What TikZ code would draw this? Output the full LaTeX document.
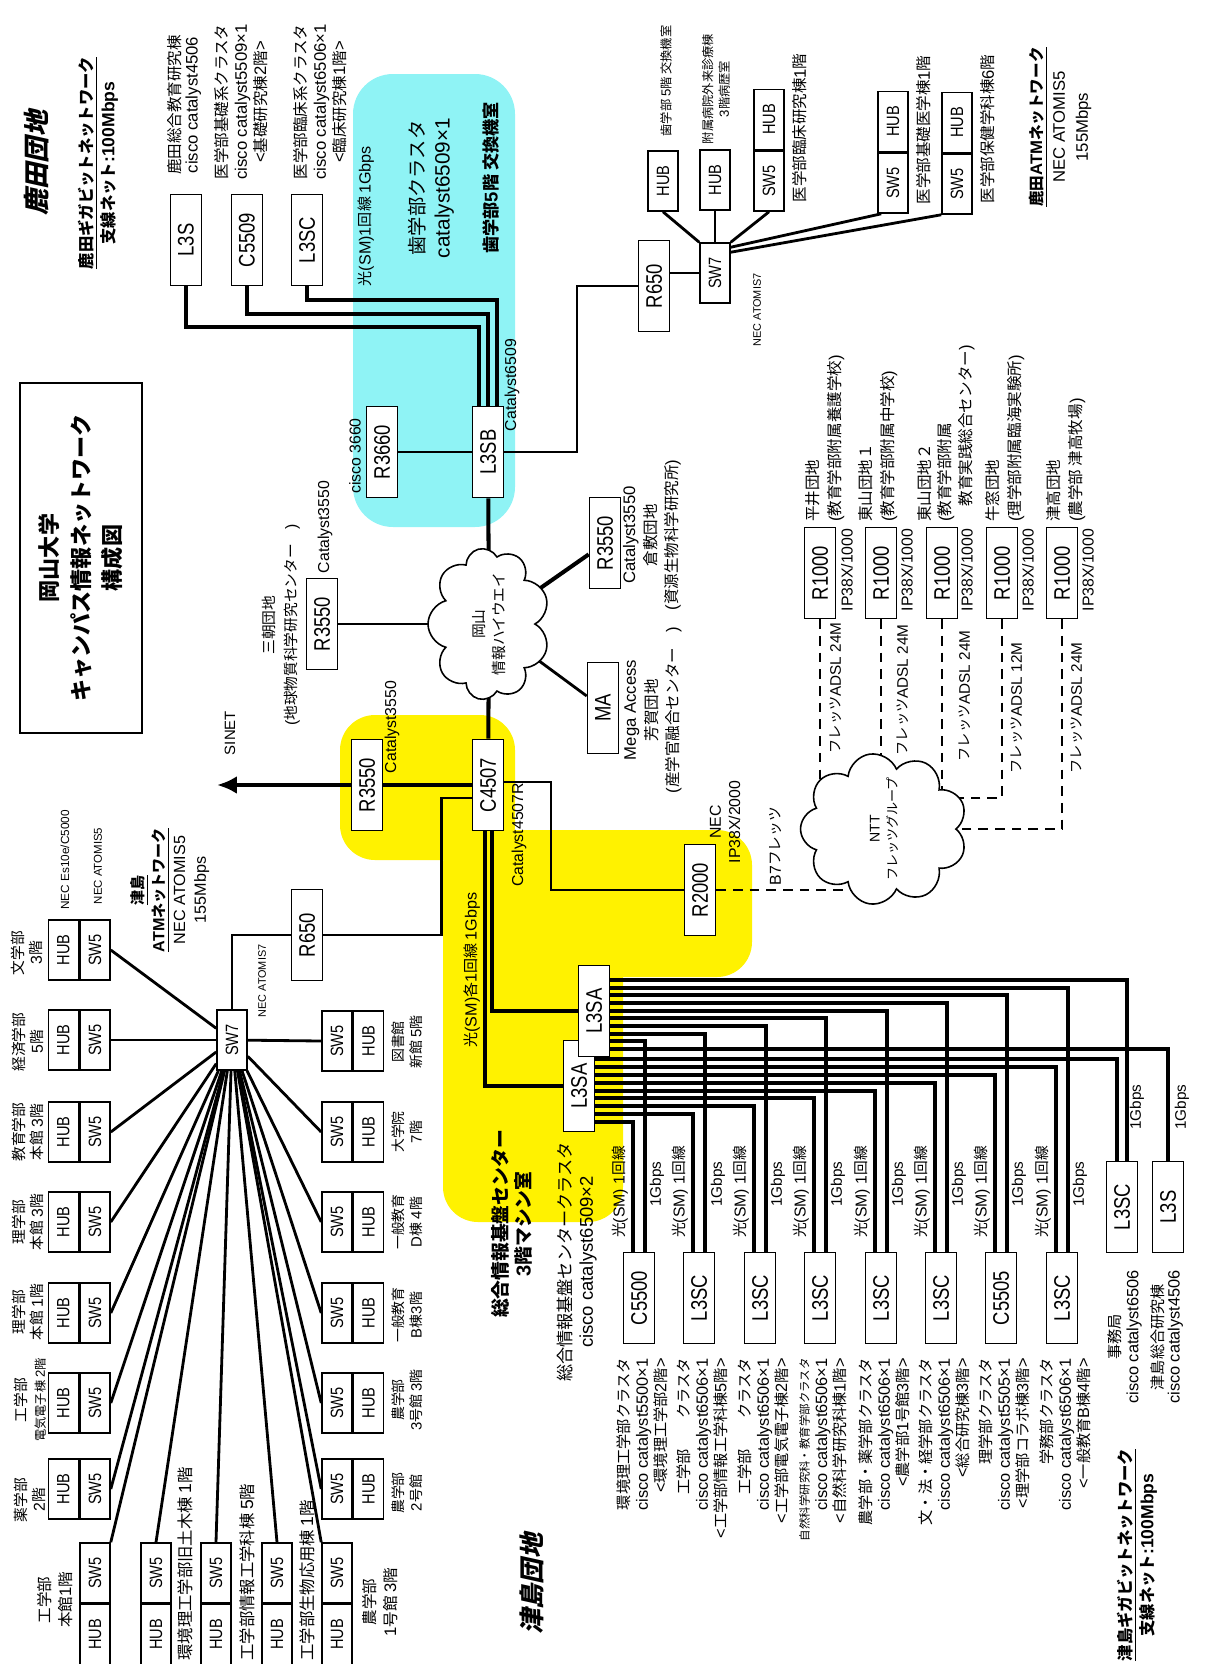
\documentclass[tikz,border=0pt]{standalone}
\usepackage{fontspec}
\setmainfont{Liberation Sans}
\newfontfamily\jpfont[Scale=0.93]{Noto Sans CJK JP}
\newfontfamily\jpslant[Scale=0.93,FakeSlant=0.22]{Noto Sans CJK JP}
\XeTeXinterchartokenstate=1
\newXeTeXintercharclass\jpchars
\count255="3000
\loop\XeTeXcharclass\count255=\jpchars\relax
\ifnum\count255<"9FFF \advance\count255 by 1 \repeat
\count255="FF00
\loop\XeTeXcharclass\count255=\jpchars\relax
\ifnum\count255<"FFEF \advance\count255 by 1 \repeat
\XeTeXinterchartoks 0 \jpchars={\jpfont}
\XeTeXinterchartoks 4095 \jpchars={\jpfont}
\XeTeXinterchartoks \jpchars 0={\rmfamily}
\XeTeXinterchartoks 4095 0={\rmfamily}
\usepackage{graphicx}
\usepackage{tikz}
\usetikzlibrary{arrows.meta,positioning,calc,shapes.symbols}
\definecolor{cyanbg}{RGB}{143,243,245}
\newcommand{\rot}[1]{\rotatebox{90}{\scalebox{1}[1.22]{#1}}}

\begin{document}
\begin{tikzpicture}[x=0.02cm,y=-0.02cm,>=Latex,every node/.style={font=\fontsize{9}{11}\selectfont}]
\tikzstyle{box}=[draw,fill=white,line width=0.9pt,minimum width=0.62cm,minimum height=1.82cm,inner sep=0pt,font=\fontsize{10.5}{12}\selectfont]
\tikzstyle{sbox}=[draw,fill=white,line width=0.9pt,minimum width=0.6cm,minimum height=1.2cm,inner sep=0pt,font=\fontsize{8.3}{10}\selectfont]
\tikzstyle{lbl}=[rotate=90,align=center,inner sep=0pt]
\tikzstyle{cable}=[line width=2.3pt]
\tikzstyle{link}=[line width=1.6pt]
\tikzstyle{wire}=[line width=1pt]
\tikzstyle{adsl}=[line width=0.9pt,dash pattern=on 5.5pt off 4pt]
\tikzstyle{puff}=[cloud,draw,fill=white,line width=0.9pt,cloud puffs=9,cloud ignores aspect,rotate=90,align=center,inner sep=0pt]
\tikzstyle{site}=[lbl,font={\XeTeXinterchartokenstate=0 \jpslant\bfseries\fontsize{16}{19}\selectfont}]
\useasboundingbox (0,0) rectangle (1223,1664);
\fill[cyanbg,rounded corners=0.8cm] (353,74) rectangle (515,527);
\fill[yellow,rounded corners=0.7cm] (340,715) rectangle (515,860);
\fill[yellow,rounded corners=0.7cm] (443,830) rectangle (752,977);
\fill[yellow,rounded corners=0.7cm] (443,830) rectangle (623,1222);

\node[lbl,draw,line width=1pt,minimum width=7cm,minimum height=2.44cm,font=\bfseries\fontsize{13.5}{18}\selectfont] (title) at (81,558) {岡山大学\\キャンパス情報ネットワーク\\構成図};
\node[site] (kashima) at (37,163) {鹿田団地};
\node[lbl,font=\bfseries\fontsize{10}{12.5}\selectfont] (kgiga) at (98,163) {\underline{鹿田ギガビットネットワーク}\\支線ネット:100Mbps};
\node[box] (ks1) at (186,240) {\rot{L3S}};
\node[box] (ks2) at (247,240) {\rot{C5509}};
\node[box] (ks3) at (307,240) {\rot{L3SC}};
\node[lbl,font=\fontsize{9.5}{10}\selectfont] (kl1) at (184,105) {鹿田総合教育研究棟\\cisco catalyst4506};
\node[lbl,font=\fontsize{9.5}{11}\selectfont] (kl2) at (241,102) {医学部基礎系クラスタ\\cisco catalyst5509×1\\<基礎研究棟2階>};
\node[lbl,font=\fontsize{9.5}{11}\selectfont] (kl3) at (320,102) {医学部臨床系クラスタ\\cisco catalyst6506×1\\<臨床研究棟1階>};
\node[lbl,font=\fontsize{9.2}{11}\selectfont] (ksm) at (366,216) {光(SM)1回線 1Gbps};
\node[lbl,font=\fontsize{11.8}{14.5}\selectfont] (dcl) at (431,188) {歯学部クラスタ\\catalyst6509×1};
\node[lbl,font=\bfseries\fontsize{10.5}{12}\selectfont] (droom) at (491,178) {歯学部5階 交換機室};
\node[box] (l3sb) at (488,452) {\rot{L3SB}};
\node[lbl] (l3sbt) at (512,385) {Catalyst6509};
\node[box] (r3660) at (382,452) {\rot{R3660}};
\node[lbl] (r3660t) at (355,456) {cisco 3660};

\node[box] (kr650) at (654,286) {\rot{R650}};
\node[sbox] (ksw7) at (715,273) {\rot{SW7}};
\node[sbox] (khub1) at (663,181) {\rot{HUB}};
\node[sbox] (khub2) at (715,180) {\rot{HUB}};
\node[sbox] (ksw5a) at (769,181) {\rot{SW5}};
\node[sbox,above=0pt of ksw5a] (khuba) {\rot{HUB}};
\node[sbox] (ksw5b) at (893,183) {\rot{SW5}};
\node[sbox,above=0pt of ksw5b] (khubb) {\rot{HUB}};
\node[sbox] (ksw5c) at (957,184) {\rot{SW5}};
\node[sbox,above=0pt of ksw5c] (khubc) {\rot{HUB}};
\node[lbl,font=\fontsize{7.5}{9}\selectfont] (kt1) at (666,81) {歯学部 5階 交換機室};
\node[lbl,font=\fontsize{7.5}{9.4}\selectfont] (kt2) at (716,89) {附属病院外来診療棟\\3階病歴室};
\node[lbl,font=\fontsize{9.5}{11}\selectfont] (kt3) at (800,128) {医学部臨床研究棟1階};
\node[lbl,font=\fontsize{9.5}{11}\selectfont] (kt4) at (924,130) {医学部基礎医学棟1階};
\node[lbl,font=\fontsize{9.5}{11}\selectfont] (kt5) at (988,129) {医学部保健学科棟6階};
\node[lbl,font=\fontsize{6.2}{7}\selectfont] (kt6) at (757,310) {NEC ATOMIS7};
\node[lbl,font=\fontsize{9.5}{13}\selectfont] (katm) at (1060,127) {\textbf{\underline{鹿田ATMネットワーク}}\\NEC ATOMIS5\\155Mbps};

\node[box] (mr3550) at (322,624) {\rot{R3550}};
\node[lbl] (mr3550t) at (325,527) {Catalyst3550};
\node[lbl,font=\fontsize{9}{12.5}\selectfont] (misasa) at (281,625) {三朝団地\\(地球物質科学研究センター　)};
\node[box] (sr3550) at (367,785) {\rot{R3550}};
\node[lbl] (sr3550t) at (392,727) {Catalyst3550};
\coordinate (sinet) at (217,785);
\node[lbl,font=\fontsize{8.5}{10}\selectfont] (sinett) at (230,733) {SINET};
\node[box] (c4507) at (488,785) {\rot{C4507}};
\node[lbl] (c4507t) at (519,835) {Catalyst4507R};
\node[box] (cr3550) at (605,543) {\rot{R3550}};
\node[lbl,font=\fontsize{9.5}{12}\selectfont] (kura) at (652,535) {Catalyst3550\\倉敷団地\\(資源生物科学研究所)};
\node[box] (ma) at (603,708) {\rot{MA}};
\node[lbl,font=\fontsize{9.5}{12}\selectfont] (haga) at (653,710) {Mega Access\\芳賀団地\\(産学官融合センター　)};
\coordinate (hwyc) at (489,624);
\node[box] (r2000) at (700,890) {\rot{R2000}};
\node[lbl,font=\fontsize{9}{11}\selectfont] (r2000t) at (725,822) {NEC\\IP38X/2000};
\node[lbl] (b7) at (776,846) {B7フレッツ};

\node[box] (ra) at (820,573) {\rot{R1000}};
\node[box] (rb) at (881,573) {\rot{R1000}};
\node[box] (rc) at (942,573) {\rot{R1000}};
\node[box] (rd) at (1002,573) {\rot{R1000}};
\node[box] (re) at (1062,573) {\rot{R1000}};
\node[lbl] (ipa) at (847,570) {IP38X/1000};
\node[lbl] (ipb) at (907,570) {IP38X/1000};
\node[lbl] (ipc) at (967,570) {IP38X/1000};
\node[lbl] (ipd) at (1028,570) {IP38X/1000};
\node[lbl] (ipe) at (1088,570) {IP38X/1000};
\node[lbl,anchor=west,align=left,font=\fontsize{9.5}{12.5}\selectfont] (sa) at (825,522) {平井団地\\(教育学部附属養護学校)};
\node[lbl,anchor=west,align=left,font=\fontsize{9.5}{12.5}\selectfont] (sb) at (878,522) {東山団地１\\(教育学部附属中学校)};
\node[lbl,anchor=west,align=left,font=\fontsize{9.5}{11.5}\selectfont] (sc) at (946,522) {東山団地２\\(教育学部附属\\　教育実践総合センター)};
\node[lbl,anchor=west,align=left,font=\fontsize{9.5}{12.5}\selectfont] (sd) at (1005,522) {牛窓団地\\(理学部附属臨海実験所)};
\node[lbl,anchor=west,align=left,font=\fontsize{9.5}{12.5}\selectfont] (se) at (1066,522) {津高団地\\(農学部 津高牧場)};
\node[lbl,font=\fontsize{8.7}{10}\selectfont] (da) at (836,688) {フレッツADSL 24M};
\node[lbl,font=\fontsize{8.7}{10}\selectfont] (db) at (903,690) {フレッツADSL 24M};
\node[lbl,font=\fontsize{8.7}{10}\selectfont] (dc) at (965,696) {フレッツADSL 24M};
\node[lbl,font=\fontsize{8.7}{10}\selectfont] (dd) at (1017,708) {フレッツADSL 12M};
\node[lbl,font=\fontsize{8.7}{10}\selectfont] (de) at (1077,708) {フレッツADSL 24M};
\coordinate (nttc) at (884,829);

\node[site,font={\XeTeXinterchartokenstate=0 \jpslant\bfseries\fontsize{15.5}{18}\selectfont}] (tsushima) at (532,1584) {津島団地};
\node[lbl,font=\bfseries\fontsize{10}{12.5}\selectfont] (tgiga) at (1137,1555) {\underline{津島ギガビットネットワーク}\\支線ネット:100Mbps};
\node[lbl,font=\fontsize{9.2}{11.8}\selectfont] (tatm) at (170,890) {\textbf{\underline{津島}}\\\textbf{\underline{ATMネットワーク}}\\NEC ATOMIS5\\155Mbps};
\node[lbl,font=\fontsize{6.7}{8}\selectfont] (tnec1) at (65,860) {NEC Es10e/C5000};
\node[lbl,font=\fontsize{6.5}{8}\selectfont] (tnec2) at (98,866) {NEC ATOMIS5};
\node[sbox] (tsw7) at (232,1040) {\rot{SW7}};
\node[lbl,font=\fontsize{6.2}{7}\selectfont] (tnec3) at (262,981) {NEC ATOMIS7};
\node[box] (tr650) at (307,935) {\rot{R650}};

\node[sbox] (ls1) at (95,950) {\rot{SW5}};
\node[sbox,left=0pt of ls1] (lh1) {\rot{HUB}};
\node[sbox] (ls2) at (95,1040) {\rot{SW5}};
\node[sbox,left=0pt of ls2] (lh2) {\rot{HUB}};
\node[sbox] (ls3) at (95,1132) {\rot{SW5}};
\node[sbox,left=0pt of ls3] (lh3) {\rot{HUB}};
\node[sbox] (ls4) at (95,1222) {\rot{SW5}};
\node[sbox,left=0pt of ls4] (lh4) {\rot{HUB}};
\node[sbox] (ls5) at (95,1313) {\rot{SW5}};
\node[sbox,left=0pt of ls5] (lh5) {\rot{HUB}};
\node[sbox] (ls6) at (95,1403) {\rot{SW5}};
\node[sbox,left=0pt of ls6] (lh6) {\rot{HUB}};
\node[sbox] (ls7) at (95,1489) {\rot{SW5}};
\node[sbox,left=0pt of ls7] (lh7) {\rot{HUB}};
\node[lbl,font=\fontsize{9}{10.5}\selectfont] (ll1) at (27,953) {文学部\\3階};
\node[lbl,font=\fontsize{9}{10.5}\selectfont] (ll2) at (28,1042) {経済学部\\5階};
\node[lbl,font=\fontsize{9}{10.5}\selectfont] (ll3) at (28,1132) {教育学部\\本館 3階};
\node[lbl,font=\fontsize{9}{10.5}\selectfont] (ll4) at (28,1222) {理学部\\本館 3階};
\node[lbl,font=\fontsize{9}{10.5}\selectfont] (ll5) at (28,1312) {理学部\\本館 1階};
\node[lbl,font=\fontsize{9}{10.5}\selectfont] (ll6) at (30,1400) {工学部\\{\fontsize{7.5}{9}\selectfont 電気電子棟 2階}};
\node[lbl,font=\fontsize{9}{10.5}\selectfont] (ll7) at (30,1500) {薬学部\\2階};

\node[sbox] (rs1) at (337,1041) {\rot{SW5}};
\node[sbox,right=0pt of rs1] (rh1) {\rot{HUB}};
\node[sbox] (rs2) at (337,1132) {\rot{SW5}};
\node[sbox,right=0pt of rs2] (rh2) {\rot{HUB}};
\node[sbox] (rs3) at (337,1222) {\rot{SW5}};
\node[sbox,right=0pt of rs3] (rh3) {\rot{HUB}};
\node[sbox] (rs4) at (337,1313) {\rot{SW5}};
\node[sbox,right=0pt of rs4] (rh4) {\rot{HUB}};
\node[sbox] (rs5) at (337,1403) {\rot{SW5}};
\node[sbox,right=0pt of rs5] (rh5) {\rot{HUB}};
\node[sbox] (rs6) at (337,1489) {\rot{SW5}};
\node[sbox,right=0pt of rs6] (rh6) {\rot{HUB}};
\node[lbl,font=\fontsize{8.5}{10.5}\selectfont] (rl1) at (407,1042) {図書館\\新館 5階};
\node[lbl,font=\fontsize{8.5}{10.5}\selectfont] (rl2) at (407,1132) {大学院\\7階};
\node[lbl,font=\fontsize{8.5}{10.5}\selectfont] (rl3) at (407,1222) {一般教育\\D棟 4階};
\node[lbl,font=\fontsize{8.5}{10.5}\selectfont] (rl4) at (407,1315) {一般教育\\B棟3階};
\node[lbl,font=\fontsize{8.5}{10.5}\selectfont] (rl5) at (407,1400) {農学部\\3号館 3階};
\node[lbl,font=\fontsize{8.5}{10.5}\selectfont] (rl6) at (407,1493) {農学部\\2号館};

\node[sbox] (bs1) at (95,1573) {\rot{SW5}};
\node[sbox,below=0pt of bs1] (bh1) {\rot{HUB}};
\node[sbox] (bs2) at (156,1573) {\rot{SW5}};
\node[sbox,below=0pt of bs2] (bh2) {\rot{HUB}};
\node[sbox] (bs3) at (216,1573) {\rot{SW5}};
\node[sbox,below=0pt of bs3] (bh3) {\rot{HUB}};
\node[sbox] (bs4) at (277,1573) {\rot{SW5}};
\node[sbox,below=0pt of bs4] (bh4) {\rot{HUB}};
\node[sbox] (bs5) at (337,1573) {\rot{SW5}};
\node[sbox,below=0pt of bs5] (bh5) {\rot{HUB}};
\node[lbl,font=\fontsize{9.5}{11.5}\selectfont] (bl1) at (55,1600) {工学部\\本館1階};
\node[lbl,anchor=west,font=\fontsize{10}{12}\selectfont] (bl2) at (185,1661) {環境理工学部旧土木棟 1階};
\node[lbl,anchor=west,font=\fontsize{10}{12}\selectfont] (bl3) at (247,1661) {工学部情報工学科棟 5階};
\node[lbl,anchor=west,font=\fontsize{10}{12}\selectfont] (bl4) at (307,1661) {工学部生物応用棟 1階};
\node[lbl,font=\fontsize{9.5}{11.5}\selectfont] (bl5) at (380,1602) {農学部\\1号館 3階};

\node[box] (l3sa2) at (579,1086) {\rot{L3SA}};
\node[box] (l3sa1) at (594,1011) {\rot{L3SA}};
\node[lbl,font=\fontsize{9.2}{11}\selectfont] (small) at (472,970) {光(SM)各1回線 1Gbps};
\node[lbl,font=\bfseries\fontsize{11.5}{13}\selectfont] (center) at (512,1224) {総合情報基盤センター\\3階マシン室};
\node[lbl,font=\fontsize{10.5}{12}\selectfont] (centcl) at (577,1262) {総合情報基盤センタークラスタ\\cisco catalyst6509×2};

\node[box] (cl0) at (639,1298) {\rot{C5500}};
\node[box] (cl1) at (699,1298) {\rot{L3SC}};
\node[box] (cl2) at (760,1298) {\rot{L3SC}};
\node[box] (cl3) at (820,1298) {\rot{L3SC}};
\node[box] (cl4) at (881,1298) {\rot{L3SC}};
\node[box] (cl5) at (941,1298) {\rot{L3SC}};
\node[box] (cl6) at (1001,1298) {\rot{C5505}};
\node[box] (cl7) at (1062,1298) {\rot{L3SC}};
\node[box] (cl8) at (1122,1207) {\rot{L3SC}};
\node[box] (tl3s) at (1168,1207) {\rot{L3S}};
\node[lbl,font=\fontsize{9}{10}\selectfont] (sm0) at (620,1192) {光(SM) 1回線};
\node[lbl,font=\fontsize{9}{10}\selectfont] (sm1) at (680,1192) {光(SM) 1回線};
\node[lbl,font=\fontsize{9}{10}\selectfont] (sm2) at (741,1192) {光(SM) 1回線};
\node[lbl,font=\fontsize{9}{10}\selectfont] (sm3) at (801,1192) {光(SM) 1回線};
\node[lbl,font=\fontsize{9}{10}\selectfont] (sm4) at (862,1192) {光(SM) 1回線};
\node[lbl,font=\fontsize{9}{10}\selectfont] (sm5) at (922,1192) {光(SM) 1回線};
\node[lbl,font=\fontsize{9}{10}\selectfont] (sm6) at (982,1192) {光(SM) 1回線};
\node[lbl,font=\fontsize{9}{10}\selectfont] (sm7) at (1043,1192) {光(SM) 1回線};
\node[lbl,font=\fontsize{8.7}{10}\selectfont] (gb0) at (657,1184) {1Gbps};
\node[lbl,font=\fontsize{8.7}{10}\selectfont] (gb1) at (718,1184) {1Gbps};
\node[lbl,font=\fontsize{8.7}{10}\selectfont] (gb2) at (778,1184) {1Gbps};
\node[lbl,font=\fontsize{8.7}{10}\selectfont] (gb3) at (838,1184) {1Gbps};
\node[lbl,font=\fontsize{8.7}{10}\selectfont] (gb4) at (899,1184) {1Gbps};
\node[lbl,font=\fontsize{8.7}{10}\selectfont] (gb5) at (959,1184) {1Gbps};
\node[lbl,font=\fontsize{8.7}{10}\selectfont] (gb6) at (1019,1184) {1Gbps};
\node[lbl,font=\fontsize{8.7}{10}\selectfont] (gb7) at (1080,1184) {1Gbps};
\node[lbl,font=\fontsize{8.7}{10}\selectfont] (gb8) at (1137,1107) {1Gbps};
\node[lbl,font=\fontsize{8.7}{10}\selectfont] (gb9) at (1182,1107) {1Gbps};
\node[lbl,anchor=east,align=right,font=\fontsize{9.3}{10.5}\selectfont] (cd0) at (642,1358) {環境理工学部クラスタ\\cisco catalyst5500×1\\<環境理工学部2階>};
\node[lbl,anchor=east,align=right,font=\fontsize{9.3}{10.5}\selectfont] (cd1) at (702,1358) {工学部　　クラスタ\\cisco catalyst6506×1\\<工学部情報工学科棟5階>};
\node[lbl,anchor=east,align=right,font=\fontsize{9.3}{10.5}\selectfont] (cd2) at (763,1358) {工学部　　クラスタ\\cisco catalyst6506×1\\<工学部電気電子棟2階>};
\node[lbl,anchor=east,align=right,font=\fontsize{9.3}{10.5}\selectfont] (cd3) at (823,1358) {{\fontsize{7}{8}\selectfont 自然科学研究科・教育学部クラスタ}\\cisco catalyst6506×1\\<自然科学研究科棟1階>};
\node[lbl,anchor=east,align=right,font=\fontsize{9.3}{10.5}\selectfont] (cd4) at (884,1358) {農学部・薬学部クラスタ\\cisco catalyst6506×1\\<農学部1号館3階>};
\node[lbl,anchor=east,align=right,font=\fontsize{9.3}{10.5}\selectfont] (cd5) at (944,1358) {文・法・経学部クラスタ\\cisco catalyst6506×1\\<総合研究棟3階>};
\node[lbl,anchor=east,align=right,font=\fontsize{9.3}{10.5}\selectfont] (cd6) at (1004,1358) {理学部クラスタ\\cisco catalyst5505×1\\<理学部コラボ棟3階>};
\node[lbl,anchor=east,align=right,font=\fontsize{9.3}{10.5}\selectfont] (cd7) at (1065,1358) {学務部クラスタ\\cisco catalyst6506×1\\<一般教育B棟4階>};
\node[lbl,font=\fontsize{9.3}{10}\selectfont] (cd8) at (1125,1337) {事務局\\cisco catalyst6506};
\node[lbl,font=\fontsize{9.3}{9}\selectfont] (cd9) at (1167,1337) {津島総合研究棟\\cisco catalyst4506};

\draw[cable] (l3sb) -- (hwyc);
\draw[cable] (c4507) -- (hwyc);
\draw[wire] (mr3550) -- (hwyc);
\draw[cable] (cr3550) -- (hwyc);
\draw[link] (ma) -- (hwyc);
\draw[adsl] (ra) -- (ra |- nttc);
\draw[adsl] (rb) -- (rb |- nttc);
\draw[adsl] (rc) -- (rc |- nttc);
\draw[adsl] (rd.south) |- ($(nttc)+(0,-31)$);
\draw[adsl] (re.south) |- (nttc);
\draw[adsl] (r2000) -- (r2000 -| nttc);
\node[puff,minimum width=3.04cm,minimum height=2.44cm,font=\fontsize{9}{11}\selectfont] (hwy) at (hwyc) {岡山\\情報ハイウエイ};
\node[puff,minimum width=3.04cm,minimum height=3.34cm,font=\fontsize{8}{10}\selectfont] (ntt) at (nttc) {NTT\\フレッツグループ};

\draw[cable] (ks1.south) |- ($(l3sb.north)+(-9,-79)$) -- ($(l3sb.north)+(-9,0)$);
\draw[cable] (ks2.south) |- ($(l3sb.north)+(0,-92)$) -- (l3sb.north);
\draw[cable] (ks3.south) |- ($(l3sb.north)+(9,-106)$) -- ($(l3sb.north)+(9,0)$);
\draw[wire] (r3660) -- (l3sb);
\draw[wire] (kr650.west) -| ($(l3sb.east)+(73,0)$) -- (l3sb.east);
\draw[link] (ksw7.west) -- (ksw7.west -| kr650.east);
\draw[link] (ksw7.north west) -- (khub1.south);
\draw[link] (ksw7.north) -- (khub2.south);
\draw[link] (ksw7.north east) -- (ksw5a.south);
\draw[link] ($(ksw7.north east)+(0,5)$) -- ($(ksw5b.south west)+(4,0)$);
\draw[link] ($(ksw7.north east)+(0,10)$) -- (ksw5c.south west);

\draw[cable,-{Latex[length=0.4cm,width=0.36cm]}] (sr3550) -- (sinet);
\draw[cable] (sr3550) -- (c4507);
\draw[link] (tr650.east) -| ($(c4507.west)+(-30,13)$) -- ($(c4507.west)+(0,13)$);
\draw[link] (tsw7.north) |- (tr650.west);
\draw[wire] ($(c4507.east)+(0,-3)$) -| ($(r2000.west)+(-133,0)$) -- (r2000.west);
\draw[cable] ($(c4507.south)+(-3,0)$) |- (l3sa2.west);
\draw[cable] ($(c4507.south)+(4,0)$) |- (l3sa1.west);

\draw[link] (tsw7) -- (ls1.east);
\draw[link] (tsw7) -- (ls2.east);
\draw[link] (tsw7) -- (ls3.east);
\draw[link] (tsw7) -- (ls4.east);
\draw[link] (tsw7) -- (ls5.east);
\draw[link] (tsw7) -- (ls6.east);
\draw[link] (tsw7) -- (ls7.east);
\draw[link] (tsw7) -- (rs1.west);
\draw[link] (tsw7) -- (rs2.west);
\draw[link] (tsw7) -- (rs3.west);
\draw[link] (tsw7) -- (rs4.west);
\draw[link] (tsw7) -- (rs5.west);
\draw[link] (tsw7) -- (rs6.west);
\draw[link] (tsw7) -- (bs1.north east);
\draw[link] (tsw7) -- (bs2.north);
\draw[link] (tsw7) -- (bs3.north);
\draw[link] (tsw7) -- (bs4.north);
\draw[link] (tsw7) -- (bs5.north west);

\draw[cable] ($(l3sa1.north east)+(0,15)$) -| ($(cl8.north)+(5,0)$);
\draw[cable] ($(l3sa1.north east)+(0,23)$) -| ($(cl7.north)+(6,0)$);
\draw[cable] ($(l3sa1.north east)+(0,30)$) -| ($(cl6.north)+(6,0)$);
\draw[cable] ($(l3sa1.north east)+(0,38)$) -| ($(cl5.north)+(6,0)$);
\draw[cable] ($(l3sa1.north east)+(0,46)$) -| ($(cl4.north)+(6,0)$);
\draw[cable] ($(l3sa1.north east)+(0,53)$) -| ($(cl3.north)+(6,0)$);
\draw[cable] ($(l3sa1.north east)+(0,61)$) -| ($(cl2.north)+(6,0)$);
\draw[cable] ($(l3sa1.north east)+(0,69)$) -| ($(cl1.north)+(6,0)$);
\draw[cable] ($(l3sa1.north east)+(0,76)$) -| ($(cl0.north)+(6,0)$);
\draw[cable] ($(l3sa1.north east)+(0,84)$) -| (tl3s.north);
\draw[cable] ($(l3sa2.north east)+(0,19)$) -| ($(cl8.north)+(-5,0)$);
\draw[cable] ($(l3sa2.north east)+(0,27)$) -| ($(cl7.north)+(-6,0)$);
\draw[cable] ($(l3sa2.north east)+(0,35)$) -| ($(cl6.north)+(-6,0)$);
\draw[cable] ($(l3sa2.north east)+(0,43)$) -| ($(cl5.north)+(-6,0)$);
\draw[cable] ($(l3sa2.north east)+(0,51)$) -| ($(cl4.north)+(-6,0)$);
\draw[cable] ($(l3sa2.north east)+(0,58)$) -| ($(cl3.north)+(-6,0)$);
\draw[cable] ($(l3sa2.north east)+(0,66)$) -| ($(cl2.north)+(-6,0)$);
\draw[cable] ($(l3sa2.north east)+(0,74)$) -| ($(cl1.north)+(-6,0)$);
\draw[cable] ($(l3sa2.north east)+(0,82)$) -| ($(cl0.north)+(-6,0)$);
\end{tikzpicture}
\end{document}
